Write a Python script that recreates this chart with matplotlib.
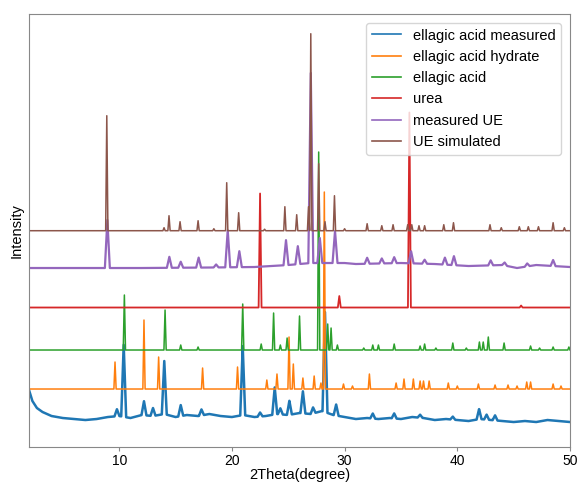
import numpy as np
import matplotlib.pyplot as plt

plt.rcParams['font.family'] = ['Liberation Sans', 'DejaVu Sans']

labels = ['ellagic acid measured', 'ellagic acid hydrate', 'ellagic acid',
          'urea', 'measured UE', 'UE simulated']

# ellagic acid measured (offset baseline + peaks)
ea_meas_base_x = [2.0, 2.3, 2.7, 3.2] + list(range(4, 51))
ea_meas_base_y = [57, 46, 39, 35, 31, 29, 28, 27, 28, 30, 31, 29, 32, 31, 33, 30,
                  32, 31, 33, 31, 30, 32, 30, 31, 33, 32, 34, 33, 36, 32, 30, 28,
                  29, 28, 29, 28, 30, 29, 27, 28, 27, 26, 28, 27, 26, 25, 26, 25,
                  27, 26, 25]
ea_meas_pos = [9.8, 10.4, 12.2, 13.0, 14.0, 15.46, 17.3, 20.96, 22.5, 23.8, 24.3,
               25.1, 26.3, 27.2, 28.26, 29.25, 32.5, 34.4, 36.7, 39.6, 41.93,
               42.6, 43.35]
ea_meas_h = [7, 72, 14, 8, 53, 11, 6, 69, 4, 27, 6, 14, 22, 6, 100, 11, 5, 5, 3,
             3, 10, 5, 5]

# ellagic acid hydrate
ea_hyd_base = 58
ea_hyd_pos = [9.63, 12.2, 13.5, 17.4, 20.5, 23.1, 24.0, 25.07, 25.45, 26.3, 27.3,
              27.9, 28.2, 29.9, 30.7, 32.2, 34.57, 35.27, 36.1, 36.7, 37.0, 37.5,
              39.2, 40.0, 41.87, 43.35, 44.5, 45.3, 46.16, 46.5, 48.5, 49.2]
ea_hyd_h = [27, 69, 32, 21, 22, 9, 15, 52, 25, 11, 13, 6, 197, 5, 3, 15, 6, 10,
            10, 8, 8, 8, 6, 3, 5, 4, 4, 3, 7, 7, 5, 3]

# ellagic acid
ea_base = 97
ea_pos = [10.46, 14.07, 15.46, 17.0, 20.96, 22.6, 23.7, 24.3, 24.9, 26.0, 27.7,
          28.5, 28.8, 29.36, 31.7, 32.5, 33.0, 34.4, 36.7, 37.1, 38.1, 39.6,
          40.8, 41.96, 42.3, 42.75, 44.15, 46.5, 47.3, 48.5, 49.9]
ea_h = [55, 40, 5, 3, 46, 6, 37, 5, 12, 34, 198, 26, 22, 5, 2, 5, 5, 6, 4, 6, 2,
        7, 2, 8, 8, 13, 7, 4, 2, 3, 3]

# urea
urea_base = 139.5
urea_pos = [22.5, 29.53, 35.75, 45.66]
urea_h = [114, 11.5, 195, 2]

# measured UE
ue_meas_base_x = [2, 8, 12, 18, 22, 25, 27, 30, 31, 35, 38, 41, 44, 45.3, 47, 50]
ue_meas_base_y = [179, 179, 179, 179.5, 180, 182, 184, 184, 183, 184, 183, 181,
                  182, 179, 182, 180]
ue_meas_pos = [8.95, 14.45, 15.46, 17.05, 18.6, 19.63, 20.66, 24.8, 25.85, 27.0,
               27.8, 29.15, 32.0, 33.3, 34.4, 35.9, 37.1, 38.9, 39.7, 42.96, 44.2,
               46.2, 48.5]
ue_meas_h = [48, 11, 6, 10, 3, 37, 16, 25, 18, 190, 25, 32, 6, 5, 6, 12, 4, 7, 9,
             5, 3, 3, 6]

# UE simulated
ue_sim_base = 216.3
ue_sim_pos = [8.9, 13.98, 14.42, 15.4, 17.0, 18.4, 19.54, 20.6, 22.9, 24.7, 25.75,
              26.8, 27.0, 27.7, 28.26, 29.1, 30.0, 32.0, 33.3, 34.3, 35.6, 35.96,
              36.6, 37.1, 38.8, 39.66, 42.9, 43.9, 45.5, 46.3, 47.2, 48.5, 49.5]
ue_sim_h = [115, 3, 15, 9, 10, 2, 48, 18, 1.5, 24, 16, 24, 197, 67, 9, 35, 2, 7,
            5, 6, 6, 6, 5, 5, 6, 8, 6, 3, 4, 4, 4, 8, 3]


def pattern(base_x, base_y, pos, h, w):
    pos = np.asarray(pos, float)
    xs = np.unique(np.concatenate([base_x, pos, pos - w, pos + w]))
    xs = xs[(xs >= 2) & (xs <= 50)]
    ys = np.interp(xs, base_x, base_y)
    for p, hh in zip(pos, h):
        ys = ys + np.clip(hh * (1 - np.abs(xs - p) / w), 0, None)
    return xs, ys


series = [
    pattern(ea_meas_base_x, ea_meas_base_y, ea_meas_pos, ea_meas_h, 0.22),
    pattern([2, 50], [ea_hyd_base] * 2, ea_hyd_pos, ea_hyd_h, 0.1),
    pattern([2, 50], [ea_base] * 2, ea_pos, ea_h, 0.1),
    pattern([2, 50], [urea_base] * 2, urea_pos, urea_h, 0.13),
    pattern(ue_meas_base_x, ue_meas_base_y, ue_meas_pos, ue_meas_h, 0.22),
    pattern([2, 50], [ue_sim_base] * 2, ue_sim_pos, ue_sim_h, 0.1),
]
widths = [1.8, 1.1, 1.1, 1.3, 1.6, 1.1]

fig = plt.figure(figsize=(5.77, 4.83), dpi=100)
ax = fig.add_axes([0.0503, 0.0745, 0.9376, 0.8965])

for (xs, ys), lab, lw in zip(series, labels, widths):
    ax.plot(xs, ys, label=lab, lw=lw)

ax.set_xlim(2, 50)
ax.set_ylim(0, 433)
ax.set_yticks([])
ax.set_xticks([10, 20, 30, 40, 50])
ax.tick_params(axis='x', labelsize=10, color='#888888', length=3, pad=2)
for s in ax.spines.values():
    s.set_color('#888888')
ax.set_xlabel('2Theta(degree)', fontsize=10.5, labelpad=0)
ax.set_ylabel('Intensity', fontsize=10.5, labelpad=4)
leg = ax.legend(loc='upper right', fontsize=10.5, borderaxespad=0.6)
for line in leg.get_lines():
    line.set_linewidth(1.2)

fig.savefig('out.png', dpi=100)
